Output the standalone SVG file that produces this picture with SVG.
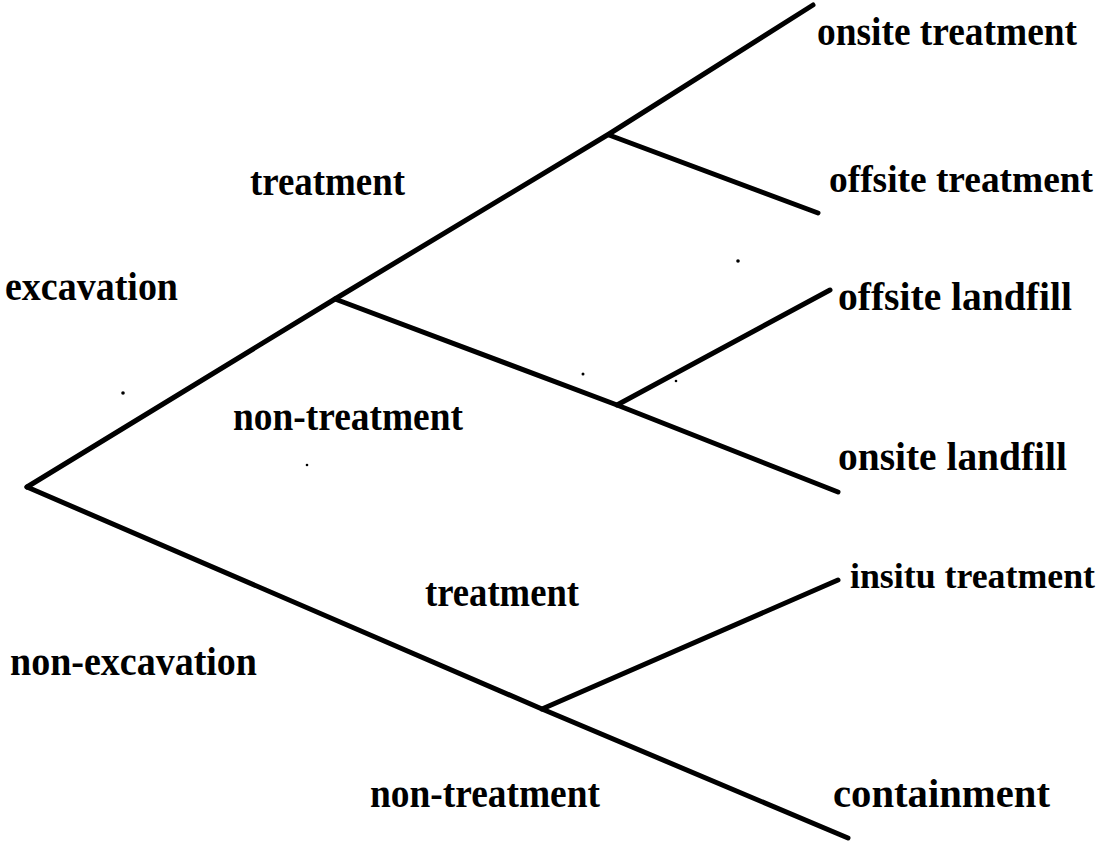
<svg xmlns="http://www.w3.org/2000/svg" width="1105" height="845" viewBox="0 0 1105 845">
<style>
.e{fill:none;stroke:#000;stroke-width:5;stroke-linecap:round;stroke-linejoin:round}
.t{font-family:"Liberation Serif","Times New Roman",serif;font-weight:bold;font-size:39px;fill:#000}
.d{fill:#000}
</style>
<rect width="1105" height="845" fill="#fff"/>
<g id="connectors">
<polyline class="e" points="27,487 335,299 609,134 813,5"/>
<polyline class="e" points="335,299 617,405 838,492"/>
<line class="e" x1="609" y1="135" x2="818" y2="213"/>
<line class="e" x1="617" y1="405" x2="830" y2="290"/>
<polyline class="e" points="27,487 542,709 848,838"/>
<line class="e" x1="542" y1="709" x2="838" y2="580"/>
</g>
<g id="specks">
<circle class="d" cx="123" cy="393" r="1.8"/>
<circle class="d" cx="738" cy="261" r="1.8"/>
<circle class="d" cx="583" cy="374" r="1.5"/>
<circle class="d" cx="676" cy="381" r="1.3"/>
<circle class="d" cx="307" cy="465" r="1.3"/>
</g>
<g id="n-excavation"><text class="t" x="5" y="300" textLength="173" lengthAdjust="spacingAndGlyphs">excavation</text></g>
<g id="n-non-excavation"><text class="t" x="10" y="675" textLength="247" lengthAdjust="spacingAndGlyphs">non-excavation</text></g>
<g id="n-treatment-1"><text class="t" x="250" y="195" textLength="155" lengthAdjust="spacingAndGlyphs">treatment</text></g>
<g id="n-non-treatment-1"><text class="t" x="233" y="430" textLength="230" lengthAdjust="spacingAndGlyphs">non-treatment</text></g>
<g id="n-treatment-2"><text class="t" x="425" y="606" textLength="154" lengthAdjust="spacingAndGlyphs">treatment</text></g>
<g id="n-non-treatment-2"><text class="t" x="370" y="807" textLength="230" lengthAdjust="spacingAndGlyphs">non-treatment</text></g>
<g id="n-onsite-treatment"><text class="t" x="817" y="45" textLength="260" lengthAdjust="spacingAndGlyphs">onsite treatment</text></g>
<g id="n-offsite-treatment"><text class="t" x="829" y="192" textLength="264" lengthAdjust="spacingAndGlyphs" style="font-size:37px">offsite treatment</text></g>
<g id="n-offsite-landfill"><text class="t" x="838" y="310" textLength="234" lengthAdjust="spacingAndGlyphs">offsite landfill</text></g>
<g id="n-onsite-landfill"><text class="t" x="838" y="470" textLength="229" lengthAdjust="spacingAndGlyphs">onsite landfill</text></g>
<g id="n-insitu-treatment"><text class="t" x="850" y="588" textLength="245" lengthAdjust="spacingAndGlyphs" style="font-size:36px">insitu treatment</text></g>
<g id="n-containment"><text class="t" x="833" y="807" textLength="217" lengthAdjust="spacingAndGlyphs">containment</text></g>
</svg>
